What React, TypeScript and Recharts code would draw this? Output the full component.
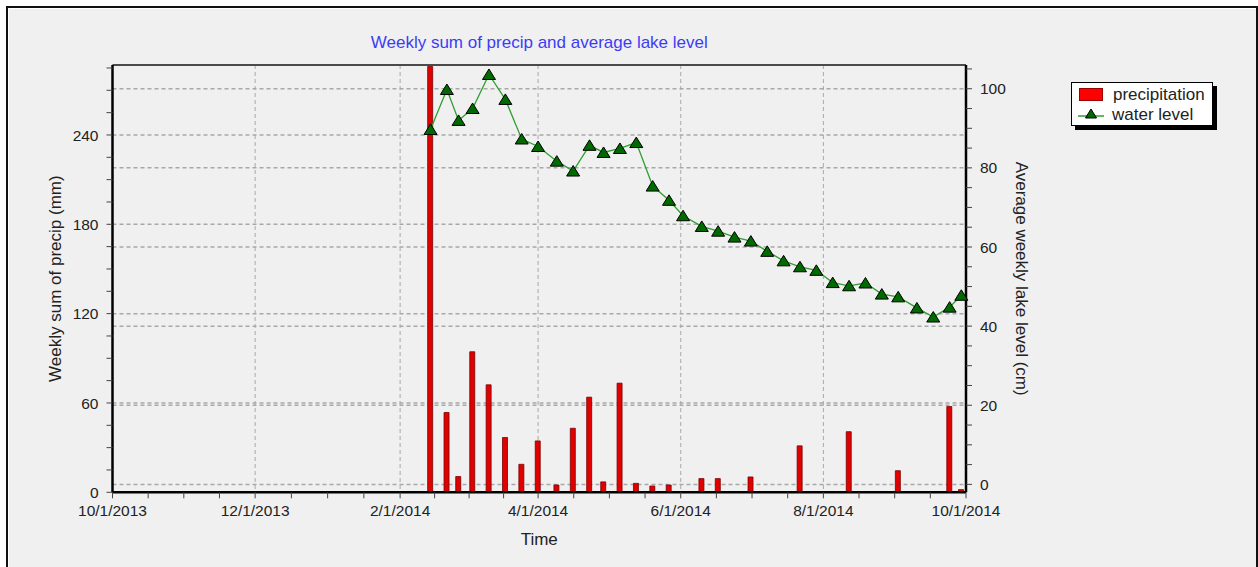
import { ComposedChart, Bar, Line, XAxis, YAxis, ReferenceLine, CartesianGrid } from "recharts";

const dates = [
  "2014-02-14", "2014-02-21", "2014-02-26", "2014-03-04", "2014-03-11", "2014-03-18",
  "2014-03-25", "2014-04-01", "2014-04-09", "2014-04-16", "2014-04-23", "2014-04-29",
  "2014-05-06", "2014-05-13", "2014-05-20", "2014-05-27", "2014-06-02", "2014-06-10",
  "2014-06-17", "2014-06-24", "2014-07-01", "2014-07-08", "2014-07-15", "2014-07-22",
  "2014-07-29", "2014-08-05", "2014-08-12", "2014-08-19", "2014-08-26", "2014-09-02",
  "2014-09-10", "2014-09-17", "2014-09-24", "2014-09-29",
];
const precipitation = [
  286, 53.6, 10.6, 94.4, 72.2, 36.8, 18.8, 34.5, 4.9, 43.0, 63.9, 7.0,
  73.3, 6.0, 4.2, 4.9, 0, 9.2, 9.2, 0, 10.3, 0, 0, 31.2,
  0, 0, 40.7, 0, 0, 14.5, 0, 0, 57.6, 1.8,
];
const waterLevel = [
  89.7, 99.8, 92.0, 95.0, 103.6, 97.3, 87.3, 85.4, 81.7, 79.2, 85.7, 83.9,
  84.9, 86.4, 75.4, 71.8, 67.9, 65.2, 64.0, 62.5, 61.5, 58.9, 56.5, 55.0,
  54.1, 51.0, 50.2, 50.9, 48.1, 47.4, 44.6, 42.3, 44.8, 47.8,
];

const monthTicks = ["2013-10-01", "2013-12-01", "2014-02-01", "2014-04-01", "2014-06-01", "2014-08-01", "2014-10-01"];
const precipTicks = [0, 60, 120, 180, 240];
const levelTicks = [0, 20, 40, 60, 80, 100];

const PRECIP_MAX = 287;
const LEVEL_DOMAIN = [-2, 106];

const data = dates.map((d, i) => ({
  t: Date.parse(d),
  precip: precipitation[i],
  level: waterLevel[i],
}));

const majorX = monthTicks.map((d) => Date.parse(d));
// 4 minor divisions between each labelled month
const minorX: number[] = [];
majorX.forEach((m, i) => {
  const next = majorX[i + 1];
  if (next === undefined) { minorX.push(m); return; }
  for (let k = 0; k < 4; k++) minorX.push(m + ((next - m) * k) / 4);
});
const minorPrecip: number[] = [];
for (let v = 0; v <= 285; v += 15) minorPrecip.push(v);
const minorLevel: number[] = [];
for (let v = 0; v <= 105; v += 5) minorLevel.push(v);

const fmtDate = (v: number) => {
  const d = new Date(v);
  return `${d.getUTCMonth() + 1}/${d.getUTCDate()}/${d.getUTCFullYear()}`;
};

const FONT = "'Liberation Sans', Arial, sans-serif";
const GRID = "#a8a8a8";
const TICK_FS = 15.5;
const LABEL_FS = 17;

const XTick = ({ x, y, payload }: any) =>
  majorX.includes(payload.value) ? (
    <text x={x} y={y} dy="0.71em" textAnchor="middle" fontSize={TICK_FS} fill="#222" fontFamily={FONT}>
      {fmtDate(payload.value)}
    </text>
  ) : <g />;

const LeftTick = ({ x, y, payload }: any) =>
  precipTicks.includes(payload.value) ? (
    <text x={x} y={y} dy="0.36em" textAnchor="end" fontSize={TICK_FS} fill="#222" fontFamily={FONT}>
      {payload.value}
    </text>
  ) : <g />;

const RightTick = ({ x, y, payload }: any) =>
  levelTicks.includes(payload.value) ? (
    <text x={x} y={y} dy="0.36em" textAnchor="start" fontSize={TICK_FS} fill="#222" fontFamily={FONT}>
      {payload.value}
    </text>
  ) : <g />;

const Triangle = ({ cx, cy }: any) => (
  <path
    d={`M${cx},${cy - 5.5} L${cx + 6.5},${cy + 5} L${cx - 6.5},${cy + 5} Z`}
    fill="#006a00"
    stroke="#000"
    strokeWidth={1}
  />
);

export default function App() {
  return (
    <div
      style={{
        position: "fixed",
        left: 6,
        top: 6,
        right: 0,
        bottom: 0,
        borderTop: "2px solid #111",
        borderLeft: "2px solid #111",
        borderRight: "2px solid #111",
        background: "#f0f0f0",
        boxShadow: "inset 1px 1px 0 #fff",
        fontFamily: FONT,
      }}
    >
      <div
        style={{
          position: "absolute",
          left: 104.5,
          width: 853.5,
          top: 25,
          textAlign: "center",
          color: "#3c3cf5",
          fontSize: LABEL_FS,
        }}
      >
        Weekly sum of precip and average lake level
      </div>

      <ComposedChart
        width={1240}
        height={559}
        data={data}
        margin={{ top: 57, right: 218, bottom: 22, left: 40.5 }}
      >
        {/* dashed grid, drawn under the series */}
        <CartesianGrid
          yAxisId="left"
          horizontal={false}
          verticalValues={majorX.slice(1, -1)}
          stroke={GRID}
          strokeDasharray="4 3"
        />
        <CartesianGrid
          yAxisId="left"
          vertical={false}
          horizontalValues={precipTicks.slice(1)}
          stroke={GRID}
          strokeWidth={1.5}
          strokeDasharray="4 3"
        />
        <CartesianGrid
          yAxisId="right"
          vertical={false}
          horizontalValues={levelTicks}
          stroke={GRID}
          strokeWidth={1.5}
          strokeDasharray="4 3"
        />

        <XAxis
          dataKey="t"
          type="number"
          domain={[majorX[0], majorX[majorX.length - 1]]}
          ticks={minorX}
          tick={<XTick />}
          tickSize={6}
          tickMargin={7}
          interval={0}
          height={52.7}
          axisLine={{ stroke: "#000", strokeWidth: 2.5 }}
          tickLine={{ stroke: "#444" }}
          label={{ value: "Time", position: "insideBottom", offset: 0, fontSize: LABEL_FS, fill: "#222", fontFamily: FONT }}
        />
        <YAxis
          yAxisId="left"
          orientation="left"
          domain={[0, PRECIP_MAX]}
          ticks={minorPrecip}
          tick={<LeftTick />}
          tickSize={6}
          tickMargin={8}
          interval={0}
          width={64}
          axisLine={{ stroke: "#000", strokeWidth: 2.5 }}
          tickLine={{ stroke: "#444" }}
          label={{
            value: "Weekly sum of precip (mm)",
            angle: -90,
            position: "insideLeft",
            offset: 6.5,
            fontSize: LABEL_FS,
            fill: "#222",
            fontFamily: FONT,
            style: { textAnchor: "middle" },
          }}
        />
        <YAxis
          yAxisId="right"
          orientation="right"
          domain={LEVEL_DOMAIN}
          allowDataOverflow
          ticks={minorLevel}
          tick={<RightTick />}
          tickSize={6}
          tickMargin={8}
          interval={0}
          width={64}
          axisLine={{ stroke: "#000", strokeWidth: 2.5 }}
          tickLine={{ stroke: "#444" }}
          label={{
            value: "Average weekly lake level (cm)",
            angle: 90,
            position: "insideRight",
            offset: 8,
            fontSize: LABEL_FS,
            fill: "#222",
            fontFamily: FONT,
            style: { textAnchor: "middle" },
          }}
        />

        <ReferenceLine y={PRECIP_MAX} yAxisId="left" stroke="#4a4a4a" strokeWidth={2} />

        <Bar
          yAxisId="left"
          dataKey="precip"
          name="precipitation"
          barSize={5}
          fill="#e00000"
          stroke="#7a0000"
          strokeWidth={0.8}
          isAnimationActive={false}
        />
        <Line
          yAxisId="right"
          dataKey="level"
          name="water level"
          type="linear"
          stroke="#2f9f2f"
          strokeWidth={1.3}
          dot={<Triangle />}
          activeDot={false}
          isAnimationActive={false}
        />
      </ComposedChart>

      {/* legend box */}
      <div
        style={{
          position: "absolute",
          left: 1063,
          top: 74,
          width: 140,
          height: 42,
          background: "#fff",
          border: "1px solid #000",
          boxShadow: "4px 4px 0 #000",
          fontSize: LABEL_FS,
          color: "#222",
          lineHeight: 1,
          whiteSpace: "nowrap",
        }}
      >
        <div style={{ display: "flex", alignItems: "center", height: 20, marginTop: 1 }}>
          <span style={{ width: 24, height: 13, background: "#ff0000", border: "1px solid #900", margin: "0 10px 0 7px", boxSizing: "border-box", flex: "none" }} />
          precipitation
        </div>
        <div style={{ display: "flex", alignItems: "center", height: 20 }}>
          <svg width={26} height={14} style={{ margin: "0 8px 0 6px", flex: "none" }}>
            <line x1={0} y1={9} x2={26} y2={9} stroke="#2f9f2f" strokeWidth={1.5} />
            <path d="M13,2 L18.5,11 L7.5,11 Z" fill="#006a00" stroke="#000" strokeWidth={1} />
          </svg>
          water level
        </div>
      </div>
    </div>
  );
}
